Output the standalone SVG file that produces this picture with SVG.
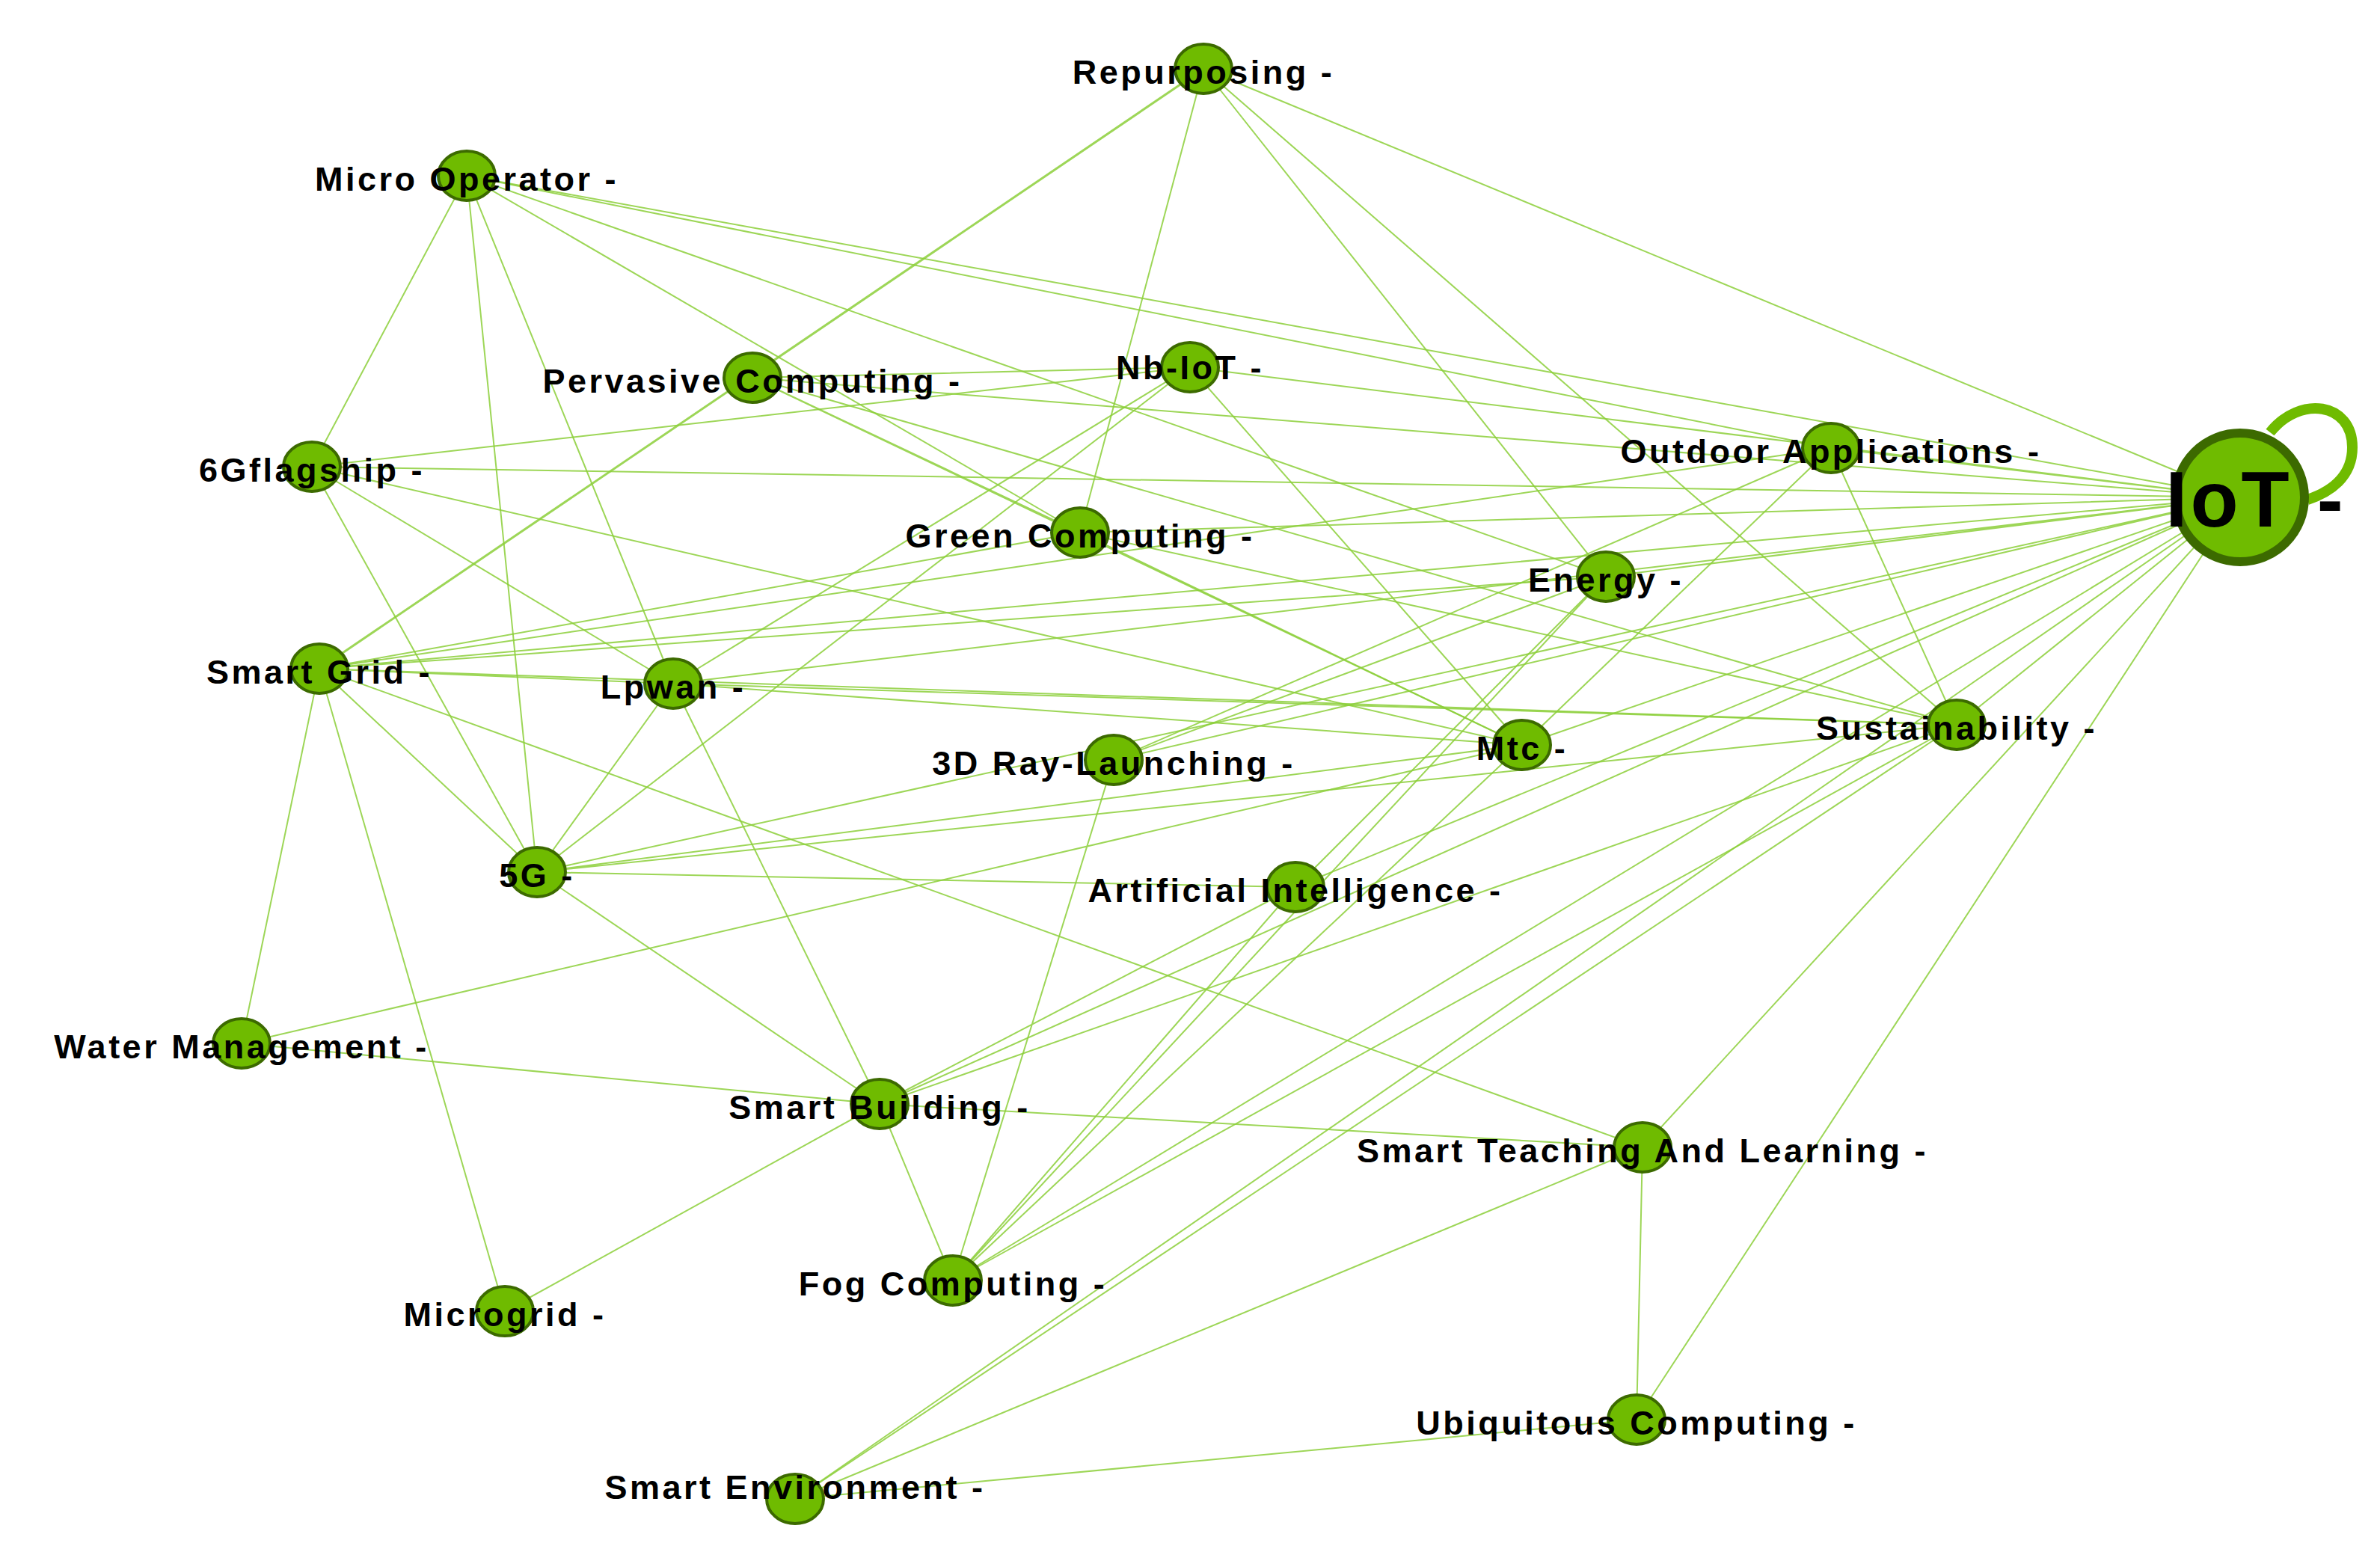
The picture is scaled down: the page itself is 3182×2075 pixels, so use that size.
<svg xmlns="http://www.w3.org/2000/svg" width="3182" height="2075" viewBox="0 0 3182 2075">
<style>
.e{stroke:#8ccf3a;stroke-width:2;fill:none;opacity:0.85}
.n{fill:#6fbb00;stroke:#3c6a00;stroke-width:4}
.t{font-family:"Liberation Sans",Arial,sans-serif;font-weight:bold;font-size:45px;letter-spacing:3.5px;fill:#000;text-anchor:middle}
</style>
<rect width="3182" height="2075" fill="#fff"/>
<g id="edges">
<path class="e" d="M2995 665 L1609 92 M2995 665 L624 235 M2995 665 L1006 505 M2995 665 L1591 491 M2995 665 L417 624 M2995 665 L2448 599 M2995 665 L1444 712 M2995 665 L2147 771 M2995 665 L427 894 M2995 665 L900 914 M2995 665 L1489 1016 M2995 665 L2035 996 M2995 665 L2616 969 M2995 665 L718 1166 M2995 665 L1732 1186 M2995 665 L1176 1476 M2995 665 L2196 1534 M2995 665 L1274 1712 M2995 665 L2188 1898 M2995 665 L1063 2004"/>
<path class="e" d="M624 235 L417 624 M624 235 L718 1166 M624 235 L900 914 M624 235 L2147 771 M624 235 L2448 599 M624 235 L1444 712"/>
<path class="e" style="stroke-width:3" d="M1609 92 L427 894"/>
<path class="e" d="M1609 92 L1444 712 M1609 92 L2147 771 M1609 92 L2616 969"/>
<path class="e" d="M1006 505 L1591 491 M1006 505 L2035 996 M1006 505 L2616 969 M1006 505 L1444 712"/>
<path class="e" d="M1591 491 L417 624 M1591 491 L718 1166 M1591 491 L900 914 M1591 491 L2035 996"/>
<path class="e" d="M417 624 L900 914 M417 624 L718 1166 M417 624 L2035 996"/>
<path class="e" d="M2448 599 L2616 969 M2448 599 L427 894 M2448 599 L1489 1016 M2448 599 L2035 996"/>
<path class="e" d="M1444 712 L427 894 M1444 712 L2035 996 M1444 712 L2616 969"/>
<path class="e" d="M2147 771 L427 894 M2147 771 L1489 1016 M2147 771 L1732 1186 M2147 771 L1274 1712"/>
<path class="e" d="M427 894 L718 1166 M427 894 L323 1395 M427 894 L675 1753 M427 894 L900 914 M427 894 L2196 1534 M427 894 L2616 969"/>
<path class="e" d="M900 914 L718 1166 M900 914 L1176 1476 M900 914 L2035 996 M900 914 L2616 969"/>
<path class="e" d="M718 1166 L1176 1476 M718 1166 L1732 1186 M718 1166 L2616 969 M718 1166 L2035 996"/>
<path class="e" d="M1489 1016 L1274 1712 M1732 1186 L1176 1476 M1732 1186 L1274 1712 M323 1395 L1176 1476 M323 1395 L2035 996"/>
<path class="e" d="M1176 1476 L1274 1712 M1176 1476 L675 1753 M1176 1476 L2196 1534 M1176 1476 L2616 969"/>
<path class="e" d="M2196 1534 L2188 1898 M2196 1534 L1063 2004 M2188 1898 L1063 2004 M1063 2004 L2616 969 M1274 1712 L2616 969 M1274 1712 L2035 996"/>
</g>
<g id="n-iot"><path d="M3035 578 C3075 528 3145 538 3145 598 C3145 638 3115 658 3085 668" fill="none" stroke="#6fbb00" stroke-width="14"/><ellipse class="n" cx="2995" cy="665" rx="86" ry="86" style="stroke-width:12"/><text class="t" x="3016" y="704" style="font-size:105px;letter-spacing:4px">IoT -</text></g>
<g id="n1"><ellipse class="n" cx="1609" cy="92" rx="38" ry="33"/><text class="t" x="1609" y="112">Repurposing -</text></g>
<g id="n2"><ellipse class="n" cx="624" cy="235" rx="38" ry="33"/><text class="t" x="624" y="255">Micro Operator -</text></g>
<g id="n3"><ellipse class="n" cx="1006" cy="505" rx="38" ry="33"/><text class="t" x="1006" y="525">Pervasive Computing -</text></g>
<g id="n4"><ellipse class="n" cx="1591" cy="491" rx="38" ry="33"/><text class="t" x="1591" y="507">Nb-IoT -</text></g>
<g id="n5"><ellipse class="n" cx="417" cy="624" rx="38" ry="33"/><text class="t" x="417" y="644">6Gflagship -</text></g>
<g id="n6"><ellipse class="n" cx="2448" cy="599" rx="38" ry="33"/><text class="t" x="2448" y="619">Outdoor Applications -</text></g>
<g id="n7"><ellipse class="n" cx="1444" cy="712" rx="38" ry="33"/><text class="t" x="1444" y="732">Green Computing -</text></g>
<g id="n8"><ellipse class="n" cx="2147" cy="771" rx="38" ry="33"/><text class="t" x="2147" y="791">Energy -</text></g>
<g id="n9"><ellipse class="n" cx="427" cy="894" rx="38" ry="33"/><text class="t" x="427" y="914">Smart Grid -</text></g>
<g id="n10"><ellipse class="n" cx="900" cy="914" rx="38" ry="33"/><text class="t" x="900" y="934">Lpwan -</text></g>
<g id="n11"><ellipse class="n" cx="1489" cy="1016" rx="38" ry="33"/><text class="t" x="1489" y="1036">3D Ray-Launching -</text></g>
<g id="n12"><ellipse class="n" cx="2035" cy="996" rx="38" ry="33"/><text class="t" x="2035" y="1016">Mtc -</text></g>
<g id="n13"><ellipse class="n" cx="2616" cy="969" rx="38" ry="33"/><text class="t" x="2616" y="989">Sustainability -</text></g>
<g id="n14"><ellipse class="n" cx="718" cy="1166" rx="38" ry="33"/><text class="t" x="718" y="1186">5G -</text></g>
<g id="n15"><ellipse class="n" cx="1732" cy="1186" rx="38" ry="33"/><text class="t" x="1732" y="1206">Artificial Intelligence -</text></g>
<g id="n16"><ellipse class="n" cx="323" cy="1395" rx="38" ry="33"/><text class="t" x="323" y="1415">Water Management -</text></g>
<g id="n17"><ellipse class="n" cx="1176" cy="1476" rx="38" ry="33"/><text class="t" x="1176" y="1496">Smart Building -</text></g>
<g id="n18"><ellipse class="n" cx="2196" cy="1534" rx="38" ry="33"/><text class="t" x="2196" y="1554">Smart Teaching And Learning -</text></g>
<g id="n19"><ellipse class="n" cx="1274" cy="1712" rx="38" ry="33"/><text class="t" x="1274" y="1732">Fog Computing -</text></g>
<g id="n20"><ellipse class="n" cx="675" cy="1753" rx="38" ry="33"/><text class="t" x="675" y="1773">Microgrid -</text></g>
<g id="n21"><ellipse class="n" cx="2188" cy="1898" rx="38" ry="33"/><text class="t" x="2188" y="1918">Ubiquitous Computing -</text></g>
<g id="n22"><ellipse class="n" cx="1063" cy="2004" rx="38" ry="33"/><text class="t" x="1063" y="2004">Smart Environment -</text></g>
</svg>
